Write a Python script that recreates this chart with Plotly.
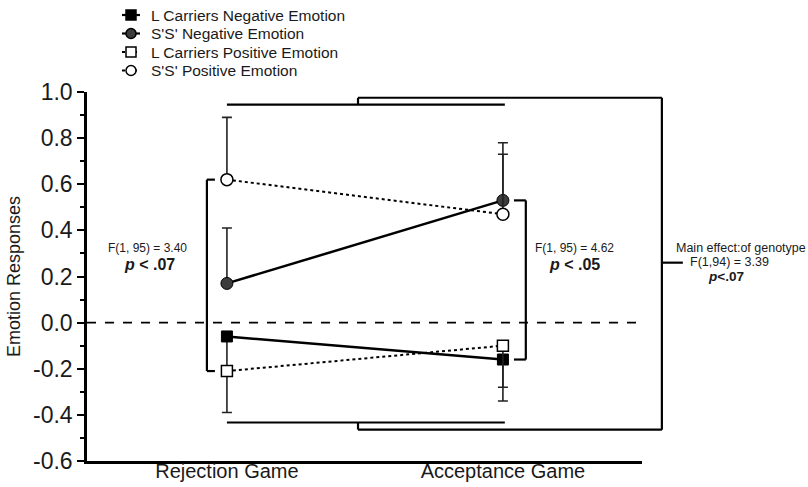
import plotly.graph_objects as go

# ---- data -------------------------------------------------------------
games = ["Rejection Game", "Acceptance Game"]
game_pos = [0, 1]

l_neg = [-0.06, -0.16]          # L carriers, negative emotion
l_neg_err = [0.13, 0.18]        # SE, drawn downward
ss_neg = [0.17, 0.53]           # S'S', negative emotion
ss_neg_err = [0.24, 0.25]       # SE, drawn upward
l_pos = [-0.21, -0.10]          # L carriers, positive emotion
l_pos_err = [0.18, 0.18]        # SE, drawn downward
ss_pos = [0.62, 0.47]           # S'S', positive emotion
ss_pos_err = [0.27, 0.26]       # SE, drawn upward

series_names = ["L Carriers Negative Emotion", "S'S' Negative Emotion",
                "L Carriers Positive Emotion", "S'S' Positive Emotion"]

y_major = [-0.6, -0.4, -0.2, 0.0, 0.2, 0.4, 0.6, 0.8, 1.0]
y_major_text = ["-0.6", "-0.4", "-0.2", "0.0", "0.2", "0.4", "0.6", "0.8", "1.0"]
y_minor = [-0.5, -0.3, -0.1, 0.1, 0.3, 0.5, 0.7, 0.9]

stats_rejection = ["F(1, 95) = 3.40", "p < .07"]
stats_acceptance = ["F(1, 95) = 4.62", "p < .05"]
stats_genotype = ["Main effect:of genotype", "F(1,94) = 3.39", "p<.07"]

# ---- page geometry ----------------------------------------------------
W, H = 808, 487
M_L, M_R, M_T, M_B = 87, 166, 92, 26
PLOT_W = W - M_L - M_R
PLOT_H = H - M_T - M_B
X_RANGE = [-0.507, 1.504]
Y_RANGE = [-0.6, 1.0]

FONT = "Liberation Sans, Arial, Helvetica, sans-serif"
INK = "#1a1a1a"


def dx(x):
    """data x -> paper x"""
    return (x - X_RANGE[0]) / (X_RANGE[1] - X_RANGE[0])


def dy(y):
    """data y -> paper y"""
    return (y - Y_RANGE[0]) / (Y_RANGE[1] - Y_RANGE[0])


def px_x(p):
    """page pixel x -> paper x"""
    return (p - M_L) / PLOT_W


def px_y(p):
    """page pixel y -> paper y"""
    return (H - M_B - p) / PLOT_H


fig = go.Figure()


def err_bar(up, down):
    return dict(type="data", symmetric=False, array=up, arrayminus=down,
                color="#222222", thickness=1.6, width=5)


zeros = [0, 0]
fig.add_trace(go.Scatter(
    x=game_pos, y=l_neg, name=series_names[0], mode="lines+markers",
    line=dict(color="black", width=2.5),
    marker=dict(symbol="square", size=11, color="black",
                line=dict(color="black", width=1)),
    error_y=err_bar(zeros, l_neg_err)))
fig.add_trace(go.Scatter(
    x=game_pos, y=ss_neg, name=series_names[1], mode="lines+markers",
    line=dict(color="black", width=2.5),
    marker=dict(symbol="circle", size=12, color="#3c3c3c",
                line=dict(color="black", width=1)),
    error_y=err_bar(ss_neg_err, zeros)))
fig.add_trace(go.Scatter(
    x=game_pos, y=l_pos, name=series_names[2], mode="lines+markers",
    line=dict(color="black", width=2, dash="dot"),
    marker=dict(symbol="square", size=11, color="white",
                line=dict(color="black", width=1.5)),
    error_y=err_bar(zeros, l_pos_err)))
fig.add_trace(go.Scatter(
    x=game_pos, y=ss_pos, name=series_names[3], mode="lines+markers",
    line=dict(color="black", width=2, dash="dot"),
    marker=dict(symbol="circle", size=12, color="white",
                line=dict(color="black", width=1.5)),
    error_y=err_bar(ss_pos_err, zeros)))

shapes = []


def seg(x0, y0, x1, y1, width=2.2, dash=None):
    ln = dict(color="black", width=width)
    if dash:
        ln["dash"] = dash
    shapes.append(dict(type="line", xref="paper", yref="paper",
                       x0=x0, y0=y0, x1=x1, y1=y1, line=ln, layer="below"))


# dashed zero reference line
seg(0, dy(0), 1, dy(0), width=1.6, dash="dash")

# bracket comparing genotypes within the rejection game
bx, bt = -0.0725, -0.0435
seg(dx(bx), dy(ss_pos[0]), dx(bt), dy(ss_pos[0]))
seg(dx(bx), dy(l_pos[0]), dx(bt), dy(l_pos[0]))
seg(dx(bx), dy(ss_pos[0]), dx(bx), dy(l_pos[0]))

# bracket comparing genotypes within the acceptance game
mx, mt = 1.083, 1.040
seg(dx(mt), dy(ss_neg[1]), dx(mx), dy(ss_neg[1]))
seg(dx(mt), dy(l_neg[1]), dx(mx), dy(l_neg[1]))
seg(dx(mx), dy(ss_neg[1]), dx(mx), dy(l_neg[1]))

# main-effect bracket spanning both games
top_in, top_out = 0.945, 0.975
bot_in, bot_out = -0.433, -0.464
step_x, right_x, tick_x, tick_y = 0.475, 1.576, 1.652, 0.26
seg(dx(0), dy(top_in), dx(1.007), dy(top_in))
seg(dx(0), dy(bot_in), dx(1.007), dy(bot_in))
seg(dx(step_x), dy(top_in), dx(step_x), dy(top_out))
seg(dx(step_x), dy(bot_in), dx(step_x), dy(bot_out))
seg(dx(step_x), dy(top_out), dx(right_x), dy(top_out))
seg(dx(step_x), dy(bot_out), dx(right_x), dy(bot_out))
seg(dx(right_x), dy(top_out), dx(right_x), dy(bot_out))
seg(dx(right_x), dy(tick_y), dx(tick_x), dy(tick_y))

annotations = []


def label(x, y, text, size, bold=False, italic_p=False, anchor="center"):
    t = text.replace("<", "&lt;")
    if italic_p:
        t = "<i>p</i>" + t[1:]
    if bold:
        t = "<b>" + t + "</b>"
    annotations.append(dict(xref="paper", yref="paper", x=x, y=y, text=t,
                            showarrow=False, xanchor=anchor, yanchor="middle",
                            font=dict(size=size, color=INK, family=FONT)))


label(dx(-0.286), dy(0.325), stats_rejection[0], 12)
label(dx(-0.280), dy(0.251), stats_rejection[1], 16, bold=True, italic_p=True)
label(dx(1.261), dy(0.325), stats_acceptance[0], 12)
label(dx(1.261), dy(0.251), stats_acceptance[1], 16, bold=True, italic_p=True)
label(dx(1.862), dy(0.325), stats_genotype[0], 12.5)
label(dx(1.822), dy(0.264), stats_genotype[1], 12.5)
label(dx(1.808), dy(0.199), stats_genotype[2], 13.5, bold=True, italic_p=True)

# hand-laid legend block (compact row spacing)
leg_rows = [15, 33.5, 52, 70.5]
leg_mx, leg_l0, leg_l1, leg_tx = 131, 122, 140, 149
leg_style = [("square", "black", "solid"), ("circle", "#3c3c3c", "solid"),
             ("square", "white", "dot"), ("circle", "white", "dot")]
for name, row, (sym, fill, dash) in zip(series_names, leg_rows, leg_style):
    shapes.append(dict(type="line", xref="paper", yref="paper",
                       x0=px_x(leg_l0), x1=px_x(leg_l1), y0=px_y(row), y1=px_y(row),
                       line=dict(color="black", width=2.2 if dash == "solid" else 2,
                                 dash=dash)))
    half = 5
    shapes.append(dict(type="rect" if sym == "square" else "circle",
                       xref="paper", yref="paper",
                       x0=px_x(leg_mx - half), x1=px_x(leg_mx + half),
                       y0=px_y(row + half), y1=px_y(row - half),
                       fillcolor=fill, line=dict(color="black", width=1.5)))
    annotations.append(dict(xref="paper", yref="paper", x=px_x(leg_tx), y=px_y(row),
                            text=name, showarrow=False, xanchor="left",
                            yanchor="middle",
                            font=dict(size=15.5, color=INK, family=FONT)))

fig.update_layout(
    width=W, height=H,
    margin=dict(l=M_L, r=M_R, t=M_T, b=M_B, pad=0),
    paper_bgcolor="white", plot_bgcolor="white",
    showlegend=False,
    font=dict(family=FONT, color=INK),
    shapes=shapes, annotations=annotations,
    xaxis=dict(range=X_RANGE, tickmode="array", tickvals=game_pos, ticktext=games,
               ticks="", showline=True, linecolor="black", linewidth=2.5,
               showgrid=False, zeroline=False, tickfont=dict(size=20, color=INK),
               ticklabelstandoff=-10,
               fixedrange=True, automargin=False),
    yaxis=dict(range=Y_RANGE, tickmode="array", tickvals=y_major,
               ticktext=y_major_text, ticks="outside", ticklen=7, tickwidth=2,
               tickcolor="black", showline=True, linecolor="black", linewidth=2.5,
               showgrid=False, zeroline=False, tickfont=dict(size=23, color=INK),
               minor=dict(tickvals=y_minor, ticks="outside", ticklen=4,
                          tickwidth=2, tickcolor="black", showgrid=False),
               title=dict(text="Emotion Responses", standoff=8,
                          font=dict(size=18, color=INK)),
               fixedrange=True, automargin=False),
)

fig.write_html("out.html")
